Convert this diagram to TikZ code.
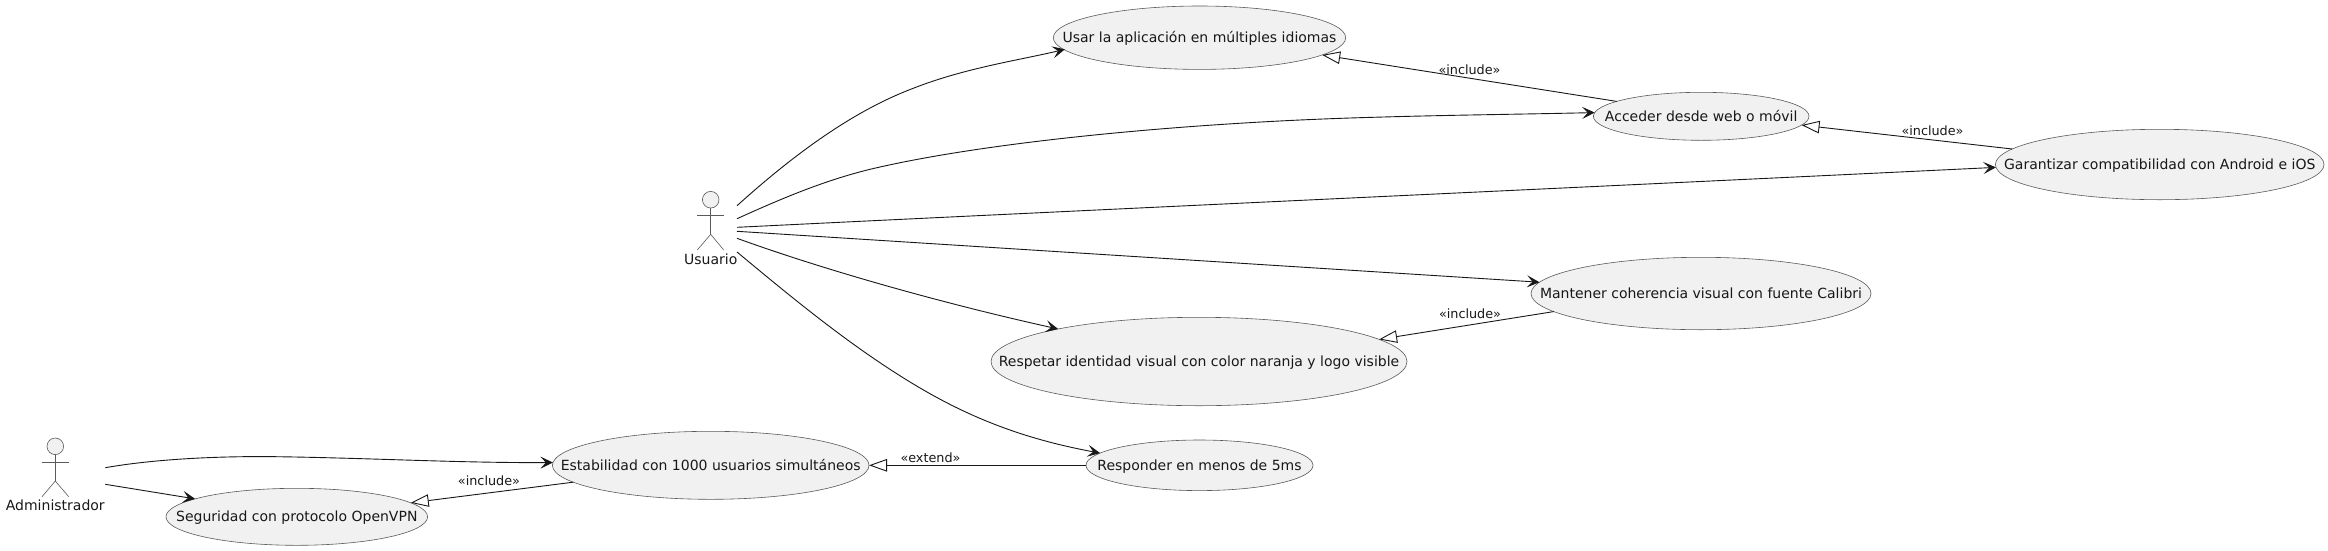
\documentclass[tikz,border=0pt]{standalone}
\usepackage{fontspec}
\setmainfont{DejaVu Sans}
\usetikzlibrary{shapes.geometric,arrows.meta}
\definecolor{ink}{HTML}{181818}
\definecolor{limb}{HTML}{5A5A5A}
\definecolor{paper}{HTML}{F1F1F1}
\newcommand{\casetext}[1]{\makebox[0pt][c]{\vphantom{Ág}#1}}
\tikzset{
  usecase/.style={ellipse,draw=limb,fill=paper,line width=0.6pt,inner sep=0pt,outer sep=0pt,text=ink,
    font=\fontsize{14}{16}\selectfont},
  actorhead/.style={circle,draw=limb,fill=paper,line width=0.6pt,inner sep=0pt,outer sep=0pt,minimum size=16.6pt},
  actorlimb/.style={draw=limb,line width=0.6pt},
  actorname/.style={anchor=base,text=ink,inner sep=0pt,font=\fontsize{14}{16}\selectfont},
  assoc/.style={draw=ink,line width=0.9pt,-{Stealth[length=12.5pt,width=12pt,inset=5.5pt]}},
  genl/.style={draw=ink,line width=0.9pt,-{Triangle[open,length=18pt,width=12.5pt,line width=0.9pt]}},
  stereo/.style={anchor=base,text=ink,inner sep=0pt,font=\fontsize{12.8}{15}\selectfont}
}
\begin{document}
\begin{tikzpicture}[x=1pt,y=-1pt]
\useasboundingbox (0,0) rectangle (2328,550);
\fill[white] (0,0) rectangle (2328,550);

% use cases
\node[usecase,minimum width=292.4pt,minimum height=63.4pt] (usar) at (1199.5,37.7) {\casetext{Usar la aplicación en múltiples idiomas}};
\node[usecase,minimum width=215.6pt,minimum height=48pt] (acceder) at (1701.2,116.3) {\casetext{Acceder desde web o móvil}};
\node[usecase,minimum width=328.6pt,minimum height=70.4pt] (garantizar) at (2159.7,164.5) {\casetext{Garantizar compatibilidad con Android e iOS}};
\node[usecase,minimum width=340pt,minimum height=72.4pt] (mantener) at (1701,293.5) {\casetext{Mantener coherencia visual con fuente Calibri}};
\node[usecase,minimum width=416pt,minimum height=88.4pt] (respetar) at (1199,361.5) {\casetext{Respetar identidad visual con color naranja y logo visible}};
\node[usecase,minimum width=227pt,minimum height=50.6pt] (responder) at (1199.5,465.3) {\casetext{Responder en menos de 5ms}};
\node[usecase,minimum width=316.6pt,minimum height=68pt] (estabilidad) at (710.7,465.3) {\casetext{Estabilidad con 1000 usuarios simultáneos}};
\node[usecase,minimum width=261.6pt,minimum height=57pt] (seguridad) at (296.8,516.8) {\casetext{Seguridad con protocolo OpenVPN}};

% actor Usuario
\node[actorhead] (uhead) at (710.7,199.7) {};
\coordinate (ubody) at (710.7,234.3);
\draw[actorlimb] (uhead.south) -- (ubody);
\draw[actorlimb] (697.3,215) -- (723.7,215);
\draw[actorlimb] (697.3,250) -- (ubody) -- (723.7,250);
\node[actorname] (uname) at (710.7,264) {Usuario};

% actor Administrador
\node[actorhead] (ahead) at (55.3,446.3) {};
\coordinate (abody) at (55.3,481);
\draw[actorlimb] (ahead.south) -- (abody);
\draw[actorlimb] (42,462.3) -- (68.7,462.3);
\draw[actorlimb] (42,496.7) -- (abody) -- (68.7,496.7);
\node[actorname] (aname) at (55.3,510.7) {Administrador};

% connector free ends at the actors
\coordinate (u1) at (737,205.7);
\coordinate (u2) at (737,218.7);
\coordinate (u3) at (737,227.3);
\coordinate (u4) at (737,231.3);
\coordinate (u5) at (737,238.3);
\coordinate (u6) at (737,252);
\coordinate (a1) at (105.3,467.7);
\coordinate (a2) at (105.3,484.3);

% associations
\draw[assoc,shorten >=-1pt] (u1) .. controls (790,158) and (850,112) .. (914,88) .. controls (965,68) and (1020,60) .. (usar.185.66);
\draw[assoc] (u2) .. controls (785,197) and (830,178) .. (880,167) .. controls (1000,140) and (1200,122) .. (1373,117.3) .. controls (1450,115) and (1520,114.3) .. (acceder.178.94);
\draw[assoc] (u3) .. controls (1100,209.5) and (1600,186.5) .. (garantizar.181.84);
\draw[assoc] (u4) -- (mantener.176.18);
\draw[assoc] (u5) .. controls (830,272) and (950,305) .. (respetar.167.69);
\draw[assoc] (u6) .. controls (790,296) and (850,346) .. (915,385) .. controls (975,421) and (1030,440) .. (responder.173.35);
\draw[assoc] (a1) .. controls (160,458) and (230,456) .. (277,456.7) .. controls (370,458) and (460,463) .. (estabilidad.179.17);
\draw[assoc] (a2) -- (seguridad.170.55);

% generalisations
\draw[genl] (acceder.170.95) -- (usar.-8.43);
\draw[genl] (garantizar.174.14) -- (acceder.-5.49);
\draw[genl] (mantener.187.45) -- (respetar.7.73);
\draw[genl] (estabilidad.187.02) -- (seguridad.7.4);
\draw[genl] (responder.west) -- (estabilidad.east);

% stereotypes
\node[stereo] (l1) at (1469.5,74) {«include»};
\node[stereo] (l2) at (1932.5,135) {«include»};
\node[stereo] (l3) at (1470,318.3) {«include»};
\node[stereo] (l4) at (489,485) {«include»};
\node[stereo] (l5) at (930.5,462) {«extend»};
\end{tikzpicture}
\end{document}
